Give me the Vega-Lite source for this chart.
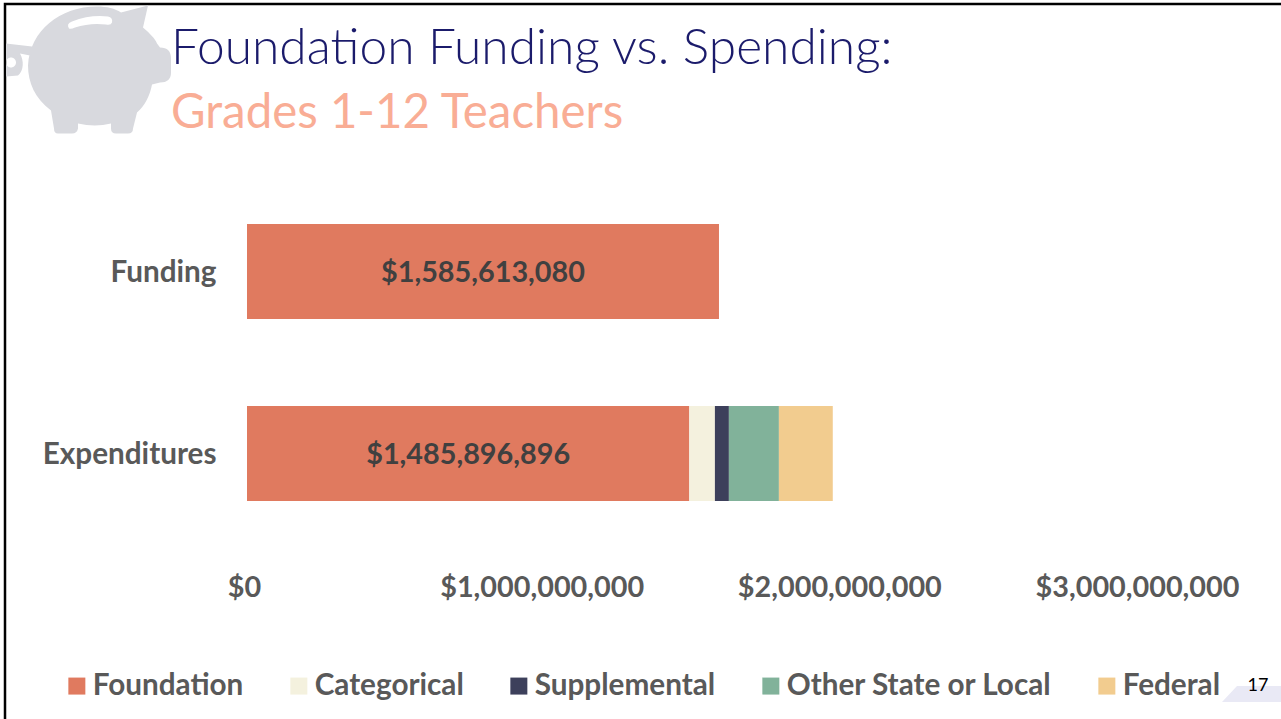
{"$schema":"https://vega.github.io/schema/vega-lite/v6.json","autosize":{"type":"none"},"padding":{"left":5,"top":4,"right":0,"bottom":0},"width":1290,"height":730,"background":"white","view":{"stroke":"#000000","strokeWidth":2.5,"fill":"white"},"title":{"text":"Foundation Funding vs. Spending:","subtitle":"Grades 1-12 Teachers","anchor":"start","frame":"group","orient":"top","dx":166,"dy":138,"font":"Lato","fontSize":49.7,"fontWeight":300,"color":"#1B1B6B","subtitleFont":"Lato","subtitleFontSize":47.4,"subtitleFontWeight":400,"subtitleColor":"#F9AD95","subtitlePadding":16},"datasets":{"rows":[{"row":"Funding","source":"Foundation","rank":1,"amount":1585613080},{"row":"Expenditures","source":"Foundation","rank":1,"amount":1485896896},{"row":"Expenditures","source":"Categorical","rank":2,"amount":86000000},{"row":"Expenditures","source":"Supplemental","rank":3,"amount":47000000},{"row":"Expenditures","source":"Other State or Local","rank":4,"amount":168000000},{"row":"Expenditures","source":"Federal","rank":5,"amount":181000000}]},"layer":[{"data":{"values":[{"decor":"piggy bank"}]},"mark":{"type":"point","filled":true,"opacity":1,"size":4,"color":"#D8D9DE","clip":false,"shape":"M-126,-259 L-99,-266 L-104,-244 C-97,-238 -92,-233 -90,-228 L-87,-224 Q-76,-224 -76,-213 L-76,-199 Q-76,-189 -87,-189 L-95,-187 C-97,-176 -102,-166 -110,-159 L-114,-143 Q-114,-138 -119,-138 L-131,-138 Q-136,-138 -136,-143 L-136,-148 Q-152,-144 -169,-148 L-169,-143 Q-170,-138 -175,-138 L-189,-138 Q-193,-138 -193,-143 L-196,-161 C-212,-173 -219,-189 -219,-206 C-217,-241 -187,-265 -150,-265 C-140,-265 -132,-263 -126,-259 Z M-178,-243 Q-176,-242 -172,-244 Q-157,-249 -141,-247 Q-136,-246 -135,-249 Q-134,-254 -139,-255 Q-157,-257 -175,-250 Q-181,-248 -178,-243 Z M-215,-225 L-217,-216 L-227,-218 C-223,-211 -223,-201 -229,-196 L-241,-195 L-241,-228 Z M-231,-209 A5 5 0 1 0 -241,-209 A5 5 0 1 0 -231,-209 Z"},"encoding":{"x":{"datum":0,"type":"quantitative","axis":null,"scale":{"domain":[0,3000000000],"range":[242,1135]}},"y":{"datum":"Funding","type":"nominal"}}},{"data":{"values":[{"decor":"page corner"}]},"mark":{"type":"point","filled":true,"opacity":1,"size":4,"color":"#E9E9F5","clip":false,"shape":"M82,248.5 L97,232.5 L141,232.5 L141,248.5 Z"},"encoding":{"x":{"datum":3000000000,"type":"quantitative","axis":null,"scale":{"domain":[0,3000000000],"range":[242,1135]}},"y":{"datum":"Expenditures","type":"nominal"}}},{"data":{"name":"rows"},"mark":{"type":"bar"},"encoding":{"y":{"field":"row","type":"nominal","title":null,"scale":{"domain":["Funding","Expenditures"],"range":[176.5,540.5],"paddingInner":0.478,"paddingOuter":0.239},"axis":{"orient":"left","offset":-211,"ticks":false,"domain":false,"labelPadding":0,"labelOffset":1,"labelFont":"Lato","labelFontSize":29.7,"labelFontWeight":"bold","labelColor":"#595959","grid":false,"labelLimit":300}},"x":{"field":"amount","type":"quantitative","title":null,"stack":"zero","scale":{"domain":[0,3000000000],"range":[242,1135],"nice":false},"axis":{"orient":"bottom","offset":-166,"values":[0,1000000000,2000000000,3000000000],"format":"$,.0f","ticks":false,"domain":false,"grid":false,"labelPadding":5,"labelOffset":-3,"labelFont":"Lato","labelFontSize":28.8,"labelFontWeight":"bold","labelColor":"#595959","labelOverlap":false,"labelFlush":false,"labelLimit":400}},"order":{"field":"rank","type":"ordinal"},"color":{"field":"source","type":"nominal","title":null,"scale":{"domain":["Foundation","Categorical","Supplemental","Other State or Local","Federal"],"range":["#E07A5F","#F4F1DE","#3D405B","#81B29A","#F2CC8F"]},"legend":{"orient":"none","legendX":57,"legendY":667,"direction":"horizontal","columns":5,"symbolType":"square","symbolSize":289,"symbolStrokeWidth":0,"symbolOpacity":1,"columnPadding":40,"labelFont":"Lato","labelFontSize":29.7,"labelFontWeight":"bold","labelColor":"#595959","labelLimit":400,"labelOffset":1}}}},{"data":{"name":"rows"},"transform":[{"filter":"datum.rank === 1"}],"mark":{"type":"text","font":"Lato","fontSize":28.8,"fontWeight":"bold","color":"#404040","dy":1},"encoding":{"y":{"field":"row","type":"nominal"},"x":{"field":"amount","type":"quantitative","stack":null,"axis":null,"scale":{"domain":[0,3000000000],"range":[242,688.5]}},"text":{"field":"amount","type":"quantitative","format":"$,.0f"}}},{"data":{"values":[{"page":"17"}]},"mark":{"type":"text","font":"Lato","fontSize":18,"color":"#000000","dy":232},"encoding":{"x":{"datum":3396000000,"type":"quantitative","axis":null,"scale":{"domain":[0,3000000000],"range":[242,1135]}},"y":{"datum":"Expenditures","type":"nominal"},"text":{"field":"page","type":"nominal"}}}],"resolve":{"scale":{"x":"independent"},"axis":{"x":"independent"}}}
